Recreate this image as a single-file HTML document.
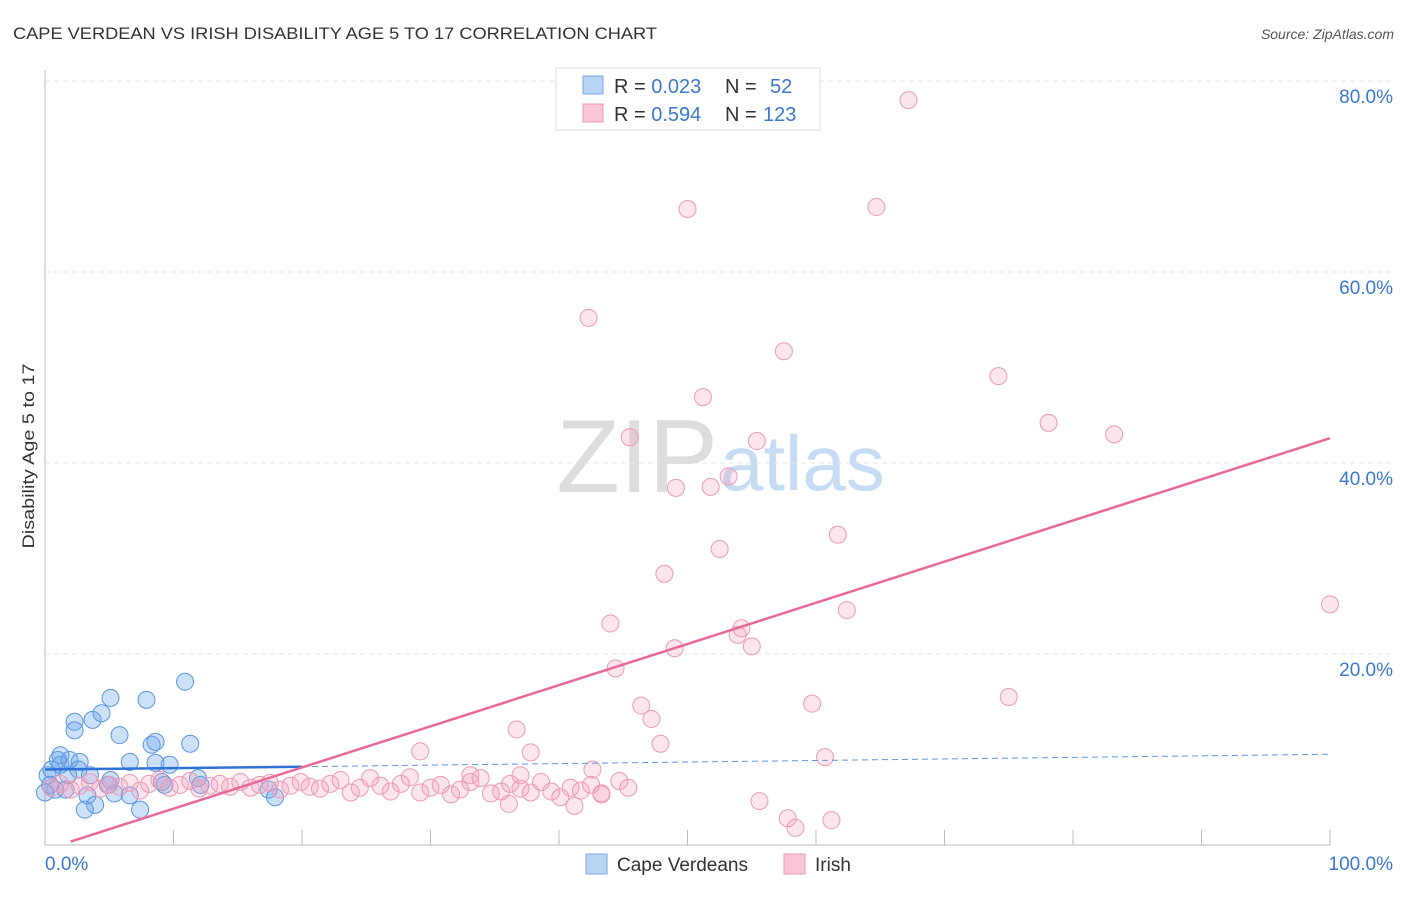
<!DOCTYPE html>
<html><head><meta charset="utf-8"><style>
body{margin:0;background:#fff;font-family:"Liberation Sans",sans-serif;}
svg text{font-family:"Liberation Sans",sans-serif;}
</style></head><body>
<svg id="chart" width="1406" height="892" xmlns="http://www.w3.org/2000/svg">
<text x="13" y="39" font-size="17" fill="#333" textLength="644" lengthAdjust="spacingAndGlyphs">CAPE VERDEAN VS IRISH DISABILITY AGE 5 TO 17 CORRELATION CHART</text>
<text x="1394" y="39" font-size="14" fill="#555" font-style="italic" text-anchor="end">Source: ZipAtlas.com</text>
<text x="34" y="456" font-size="17" fill="#333" text-anchor="middle" textLength="185" lengthAdjust="spacingAndGlyphs" transform="rotate(-90 34 456)">Disability Age 5 to 17</text>
<text x="718" y="492" font-size="104" fill="#ddd" text-anchor="end" font-family="Liberation Serif">ZIP</text>
<text x="720" y="490" font-size="78" fill="#c7dcf3">atlas</text>
<g id="grid"></g><g id="pts"></g><g id="lines"></g>
<g>
<rect x="556" y="68" width="264" height="62" fill="#fff" stroke="#ddd"/>
<rect x="583" y="76" width="20" height="18" fill="#b8d4f5" stroke="#7aa9e8"/>
<rect x="583" y="104" width="20" height="18" fill="#f9c6d6" stroke="#eb9ab4"/>
<text x="614" y="93" font-size="20" fill="#333">R = <tspan fill="#3b78d0">0.023</tspan><tspan x="725">N = </tspan><tspan x="770" fill="#3b78d0">52</tspan></text>
<text x="614" y="121" font-size="20" fill="#333">R = <tspan fill="#3b78d0">0.594</tspan><tspan x="725">N = </tspan><tspan x="763" fill="#3b78d0">123</tspan></text>
</g>
<g>
<rect x="586" y="854" width="21" height="20" fill="#b8d4f5" stroke="#7aa9e8"/>
<text x="617" y="871" font-size="19" fill="#333">Cape Verdeans</text>
<rect x="784" y="854" width="21" height="20" fill="#f9c6d6" stroke="#eb9ab4"/>
<text x="815" y="871" font-size="19" fill="#333">Irish</text>
</g>
</svg>
<script>
const yTicks=[20,40,60,80];
const yTickLabels=["20.0%","40.0%","60.0%","80.0%"];
const xTickLabels=["0.0%","100.0%"];
const blueX=[0.2,0.5,0.8,1.2,1.6,1.9,2.3,2.3,2.7,2.6,3.3,3.7,3.9,4.4,5.1,4.9,5.4,5.8,6.6,7.4,7.9,8.3,8.6,8.6,9.1,9.7,10.9,11.3,11.9,17.4,17.9,1.2,3.1,5.1,0.4,1.0,1.8,6.6,9.3,12.1,3.5,0];
const blueY=[7.3,7.9,5.8,8.4,5.8,8.9,12.9,12.0,8.7,7.9,5.2,13.1,4.2,13.8,15.4,6.3,5.4,11.5,8.7,3.7,15.2,10.5,10.8,8.6,6.6,8.4,17.1,10.6,7.0,5.8,5.0,9.4,3.7,6.8,6.3,8.9,7.3,5.2,6.3,6.3,7.3,5.5];
const pinkX=[67.2,50.0,64.7,42.3,57.5,51.2,74.2,78.1,83.2,45.5,55.4,53.2,49.1,51.8,52.5,61.7,48.2,44.0,62.4,54.2,53.9,55.0,49.0,44.4,100,75.0,59.7,46.4,47.2,36.7,47.9,37.8,29.2,60.7,55.6,57.8,58.4,61.2,36.1,41.2,43.3,33.1,37.0,42.6,44.7,45.4,
0.5,1.2,2,2.7,3.5,4.3,5,5.8,6.6,7.4,8.1,8.9,9.7,10.5,11.3,12,12.8,13.6,14.4,15.2,16,16.7,17.5,18.3,19.1,19.9,20.6,21.4,22.2,23,23.8,24.5,25.3,26.1,26.9,27.7,28.4,29.2,30,30.8,31.6,32.3,33.1,33.9,34.7,35.5,36.2,37,37.8,38.6,39.4,40.1,40.9,41.7,42.5,43.3];
const pinkY=[78.0,66.6,66.8,55.2,51.7,46.9,49.1,44.2,43.0,42.7,42.3,38.6,37.4,37.5,31.0,32.5,28.4,23.2,24.6,22.7,22.0,20.8,20.6,18.5,25.2,15.5,14.8,14.6,13.2,12.1,10.6,9.7,9.8,9.2,4.6,2.8,1.8,2.6,4.3,4.1,5.3,7.3,7.3,7.9,6.7,6.0,
6.0,6.4,5.8,6.2,6.6,5.9,6.3,6.1,6.5,5.7,6.4,6.8,6.0,6.3,6.7,5.9,6.2,6.4,6.1,6.6,6.0,6.3,6.5,5.8,6.2,6.6,6.1,5.9,6.4,6.8,5.5,6.0,7.0,6.2,5.6,6.4,7.1,5.5,6.0,6.3,5.3,5.8,6.6,7.0,5.4,5.6,6.4,5.9,5.5,6.6,5.6,5.0,6.0,5.7,6.3,5.4];
const blueFit=[7.9,8.2,9.5];
const pinkFit=[-0.5,42.6];
const X=v=>45+v*12.85, Y=v=>845-v*9.55;
const NS="http://www.w3.org/2000/svg";
function mk(parent,tag,attrs){const e=document.createElementNS(NS,tag);for(const k in attrs)e.setAttribute(k,attrs[k]);document.getElementById(parent).appendChild(e);return e;}
let e=mk('grid','line',{x1:45,y1:70,x2:45,y2:845,stroke:'#bbb'});


e=mk('grid','line',{x1:45,y1:845,x2:1330,y2:845,stroke:'#bbb'});


yTicks.forEach((t,i)=>{
 let g=mk('grid','line',{x1:45,y1:Y(t),x2:1395,y2:Y(t),stroke:'#e4e4e4','stroke-dasharray':'5,4'});
 
 
 let l=mk('grid','text',{x:1393,y:Y(t)+22,'font-size':19,fill:'#3b78d0','text-anchor':'end'});
 l.textContent=yTickLabels[i];
 
 
});
for(let i=0;i<=10;i++){
 let t=mk('grid','line',{x1:X(i*10),y1:830,x2:X(i*10),y2:845,stroke:'#bbb'});
 
 
}
[[0,'start',45],[100,'end',1393]].forEach((a,i)=>{
 let l=mk('grid','text',{x:a[2],y:870,'font-size':19,fill:'#3b78d0','text-anchor':a[1]});
 l.textContent=xTickLabels[i];
 
 
});
blueX.forEach((v,i)=>{
 let c=mk('pts','circle',{cx:X(v),cy:Y(blueY[i]),r:8.5,fill:'rgba(110,165,235,0.35)',stroke:'#5b96e0','stroke-width':1});
 
 
});
pinkX.forEach((v,i)=>{
 let c=mk('pts','circle',{cx:X(v),cy:Y(pinkY[i]),r:8.5,fill:'rgba(245,160,190,0.28)',stroke:'#ec9ab5','stroke-width':1});
 
 
});
e=mk('lines','line',{x1:X(0),y1:Y(blueFit[0]),x2:X(20),y2:Y(blueFit[1]),stroke:'#2f72d8','stroke-width':2.5});


e=mk('lines','line',{x1:X(20),y1:Y(blueFit[1]),x2:X(100),y2:Y(blueFit[2]),stroke:'#5b96e0','stroke-width':1,'stroke-dasharray':'6,4'});


e=mk('lines','line',{x1:X(2),y1:Y(pinkFit[0]+(pinkFit[1]-pinkFit[0])*0.02),x2:X(100),y2:Y(pinkFit[1]),stroke:'#e8689a','stroke-width':2.5});


</script>
</body></html>
